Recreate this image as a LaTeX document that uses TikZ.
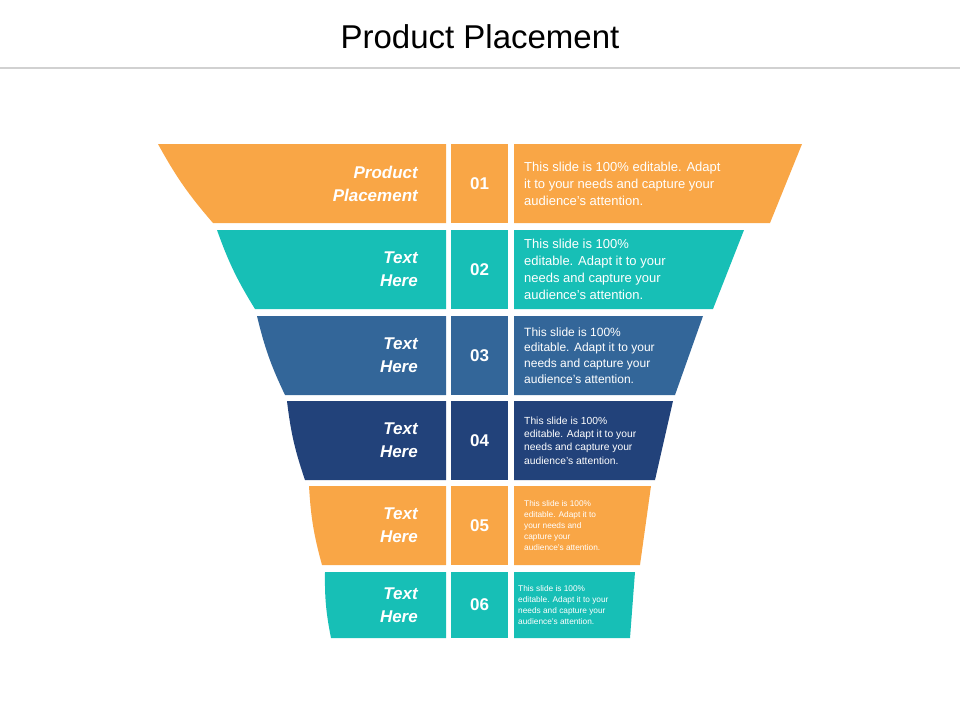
\documentclass[tikz,border=0pt]{standalone}
\usepackage{fontspec}
\setmainfont{Liberation Sans}
\usetikzlibrary{positioning}
\definecolor{funOrange}{HTML}{F9A646}
\definecolor{funTeal}{HTML}{17BFB6}
\definecolor{funBlue}{HTML}{336699}
\definecolor{funNavy}{HTML}{22427A}
\begin{document}
\begin{tikzpicture}[x=1pt,y=-1pt]
	\tikzstyle{every node}+=[inner sep=0pt, text=white]
	\tikzstyle{lbl}=[font=\bfseries\itshape\fontsize{17}{23}\selectfont, align=right, anchor=east]
	\tikzstyle{num}=[font=\bfseries\fontsize{17}{20}\selectfont]
	\useasboundingbox (0,0) rectangle (960,720);
	\node (title) at (480,37) [text=black, font=\fontsize{33}{38}\selectfont] {Product Placement};
	\draw [black!18, line width=1.5pt] (0,68) -- (960,68);
	% rows: top y / bottom y / left top / left bottom / right top / right bottom / colour / id / label / text size / text x / text
	\foreach \t/\b/\lt/\lb/\rt/\rb/\c/\n/\lab/\fs/\tx/\txt in {
		144/223/158/213/802/770/funOrange/01/{Product\\Placement}/13/524/{This slide is 100\% editable. Adapt\\it to your needs and capture your\\audience's attention.},
		230/309/217/255/744/713/funTeal/02/{Text\\Here}/13/524/{This slide is 100\%\\editable. Adapt it to your\\needs and capture your\\audience's attention.},
		316/395/257/285/703/675/funBlue/03/{Text\\Here}/12/524/{This slide is 100\%\\editable. Adapt it to your\\needs and capture your\\audience's attention.},
		401/480/287/305/673/655/funNavy/04/{Text\\Here}/10.3/524/{This slide is 100\%\\editable. Adapt it to your\\needs and capture your\\audience's attention.},
		486/565/309/322/651/640/funOrange/05/{Text\\Here}/8.3/524/{This slide is 100\%\\editable. Adapt it to\\your needs and\\capture your\\audience's attention.},
		572/638/325/331/635/630/funTeal/06/{Text\\Here}/8.3/518/{This slide is 100\%\\editable. Adapt it to your\\needs and capture your\\audience's attention.}} {
		\pgfmathsetmacro{\bs}{\fs*1.3}
		\fill [\c] (\lt,\t) to[bend right=6] (\lb,\b) -- (446,\b) -- (446,\t) -- cycle;
		\fill [\c] (451,\t) rectangle (508,\b);
		\fill [\c] (514,\t) -- (\rt,\t) -- (\rb,\b) -- (514,\b) -- cycle;
		\node (lbl\n) [lbl] at (418,{(\t+\b)/2}) {\lab};
		\node (num\n) [num] at (479.5,{(\t+\b)/2}) {\n};
		\node (txt\n) [anchor=west, align=left,
			font=\fontsize{\fs}{\bs}\selectfont] at (\tx,{(\t+\b)/2}) {\txt};
	}
\end{tikzpicture}
\end{document}
